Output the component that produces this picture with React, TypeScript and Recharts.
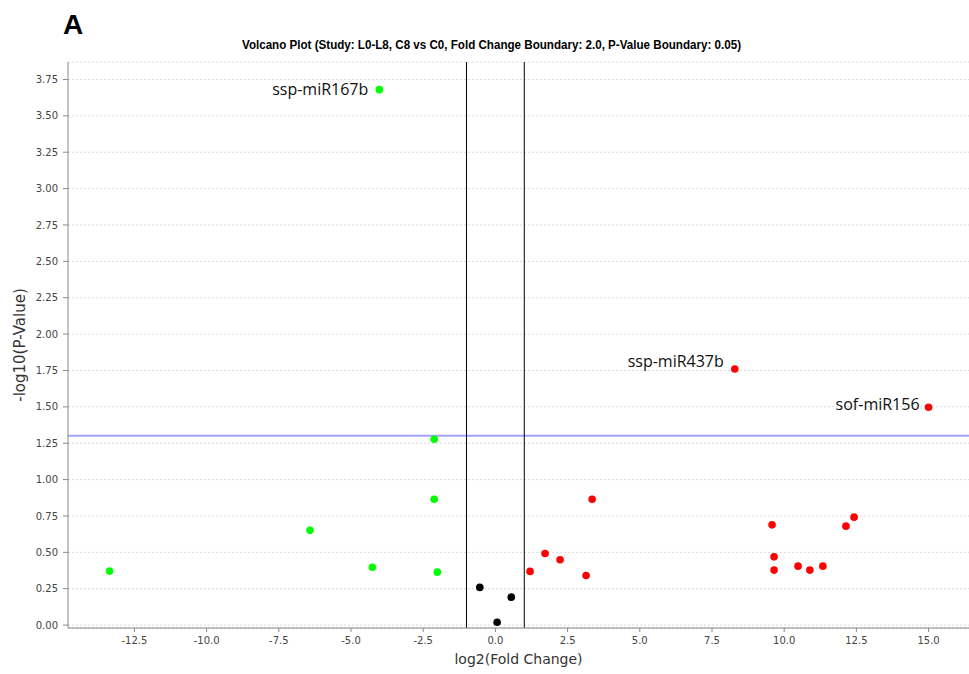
import React from 'react';
import {
  ScatterChart,
  Scatter,
  XAxis,
  YAxis,
  CartesianGrid,
  ReferenceLine,
  Customized,
} from 'recharts';

// Down-regulated (green)
const downX = [-4.02, -2.12, -2.12, -6.42, -13.36, -4.26, -2.01];
const downY = [3.68, 1.277, 0.865, 0.652, 0.371, 0.398, 0.364];
const downLabels = ['ssp-miR167b', '', '', '', '', '', ''];

// Not significant (black)
const nsX = [-0.54, 0.55, 0.06];
const nsY = [0.259, 0.192, 0.02];

// Up-regulated (red)
const upX = [1.2, 1.72, 2.24, 3.14, 3.35, 8.29, 15.0, 9.58, 9.65, 9.65, 10.48, 10.89, 11.34, 12.14, 12.42];
const upY = [0.369, 0.492, 0.449, 0.341, 0.865, 1.76, 1.497, 0.689, 0.469, 0.378, 0.405, 0.378, 0.405, 0.68, 0.742];
const upLabels = ['', '', '', '', '', 'ssp-miR437b', 'sof-miR156', '', '', '', '', '', '', '', ''];

const xTicks = [-12.5, -10, -7.5, -5, -2.5, 0, 2.5, 5, 7.5, 10, 12.5, 15];
const yTicks = [0, 0.25, 0.5, 0.75, 1, 1.25, 1.5, 1.75, 2, 2.25, 2.5, 2.75, 3, 3.25, 3.5, 3.75];

const foldBoundary = 1; // log2(2.0)
const pBoundary = -Math.log10(0.05);

const titleText = 'Volcano Plot (Study: L0-L8, C8 vs C0, Fold Change Boundary: 2.0, P-Value Boundary: 0.05)';

const build = (xs: number[], ys: number[], labels?: string[]) =>
  xs.map((x, i) => ({ x, y: ys[i], label: labels ? labels[i] : '' }));

const downData = build(downX, downY, downLabels);
const nsData = build(nsX, nsY);
const upData = build(upX, upY, upLabels);

// label placement styles (offset from the point centre)
const labelStyle: Record<string, { dx: number; dy: number }> = {
  'ssp-miR167b': { dx: -11, dy: 5 },
  'ssp-miR437b': { dx: -11, dy: -2 },
  'sof-miR156': { dx: -9, dy: 3 },
};

const makeShape = (color: string) => (props: any) => {
  const { cx, cy, payload } = props;
  const lab = payload && payload.label;
  const st = lab ? labelStyle[lab] : null;
  return (
    <g>
      <circle cx={cx} cy={cy} r={3.8} fill={color} />
      {lab ? (
        <text
          x={cx + (st ? st.dx : -10)}
          y={cy + (st ? st.dy : 4)}
          textAnchor="end"
          fontFamily="'Open Sans', sans-serif"
          fontSize={16}
          fill="#111"
        >
          {lab}
        </text>
      ) : null}
    </g>
  );
};

const Titles = () => (
  <g>
    <text x={63} y={33.5} fontFamily="'Liberation Sans', Arial, sans-serif" fontWeight="bold" fontSize={28} fill="#000">
      A
    </text>
    <text
      x={242}
      y={49}
      fontFamily="'Liberation Sans', Arial, sans-serif"
      fontWeight="bold"
      fontSize={12}
      fill="#000"
      textLength={499}
      lengthAdjust="spacingAndGlyphs"
    >
      {titleText}
    </text>
  </g>
);

const tickStyle = { fill: '#444', fontSize: 10, fontFamily: "'DejaVu Sans', sans-serif" };

export default function App() {
  return (
    <div style={{ position: 'absolute', left: 0, top: 0, width: 969, height: 674, background: '#fff' }}>
      <ScatterChart width={969} height={674} margin={{ top: 62, right: 0, bottom: 6, left: 8 }}>
        <CartesianGrid vertical={false} strokeDasharray="2 2" stroke="#d9d9d9" />
        <XAxis
          type="number"
          dataKey="x"
          domain={[-14.8, 16.4]}
          ticks={xTicks}
          allowDataOverflow
          tickFormatter={(v: number) => v.toFixed(1)}
          tick={tickStyle}
          tickSize={4}
          tickMargin={5}
          stroke="#888"
          height={40}
          label={{
            value: 'log2(Fold Change)',
            position: 'insideBottom',
            offset: 4,
            style: { fontFamily: "'DejaVu Sans', sans-serif", fontSize: 14, fill: '#333' },
          }}
        />
        <XAxis
          xAxisId="top"
          orientation="top"
          type="number"
          dataKey="x"
          domain={[-14.8, 16.4]}
          allowDataOverflow
          height={0}
          tick={false}
          tickLine={false}
          stroke="#999"
        />
        <YAxis
          type="number"
          dataKey="y"
          domain={[-0.02, 3.87]}
          ticks={yTicks}
          allowDataOverflow
          tickFormatter={(v: number) => v.toFixed(2)}
          tick={tickStyle}
          tickSize={5}
          tickMargin={5}
          stroke="#888"
          width={60}
          label={{
            value: '-log10(P-Value)',
            angle: -90,
            position: 'insideLeft',
            offset: 12,
            style: { textAnchor: 'middle', fontFamily: "'DejaVu Sans', sans-serif", fontSize: 15, fill: '#333' },
          }}
        />
        <ReferenceLine y={pBoundary} stroke="#a3a3ff" strokeWidth={2} />
        <ReferenceLine x={-foldBoundary} stroke="#000" strokeWidth={1} />
        <ReferenceLine x={foldBoundary} stroke="#000" strokeWidth={1} />
        <Scatter data={nsData} fill="#000" shape={makeShape('#000')} isAnimationActive={false} />
        <Scatter data={downData} fill="#00ff00" shape={makeShape('#00ff00')} isAnimationActive={false} />
        <Scatter data={upData} fill="#ff0000" shape={makeShape('#ff0000')} isAnimationActive={false} />
        <Customized component={Titles} />
      </ScatterChart>
    </div>
  );
}
